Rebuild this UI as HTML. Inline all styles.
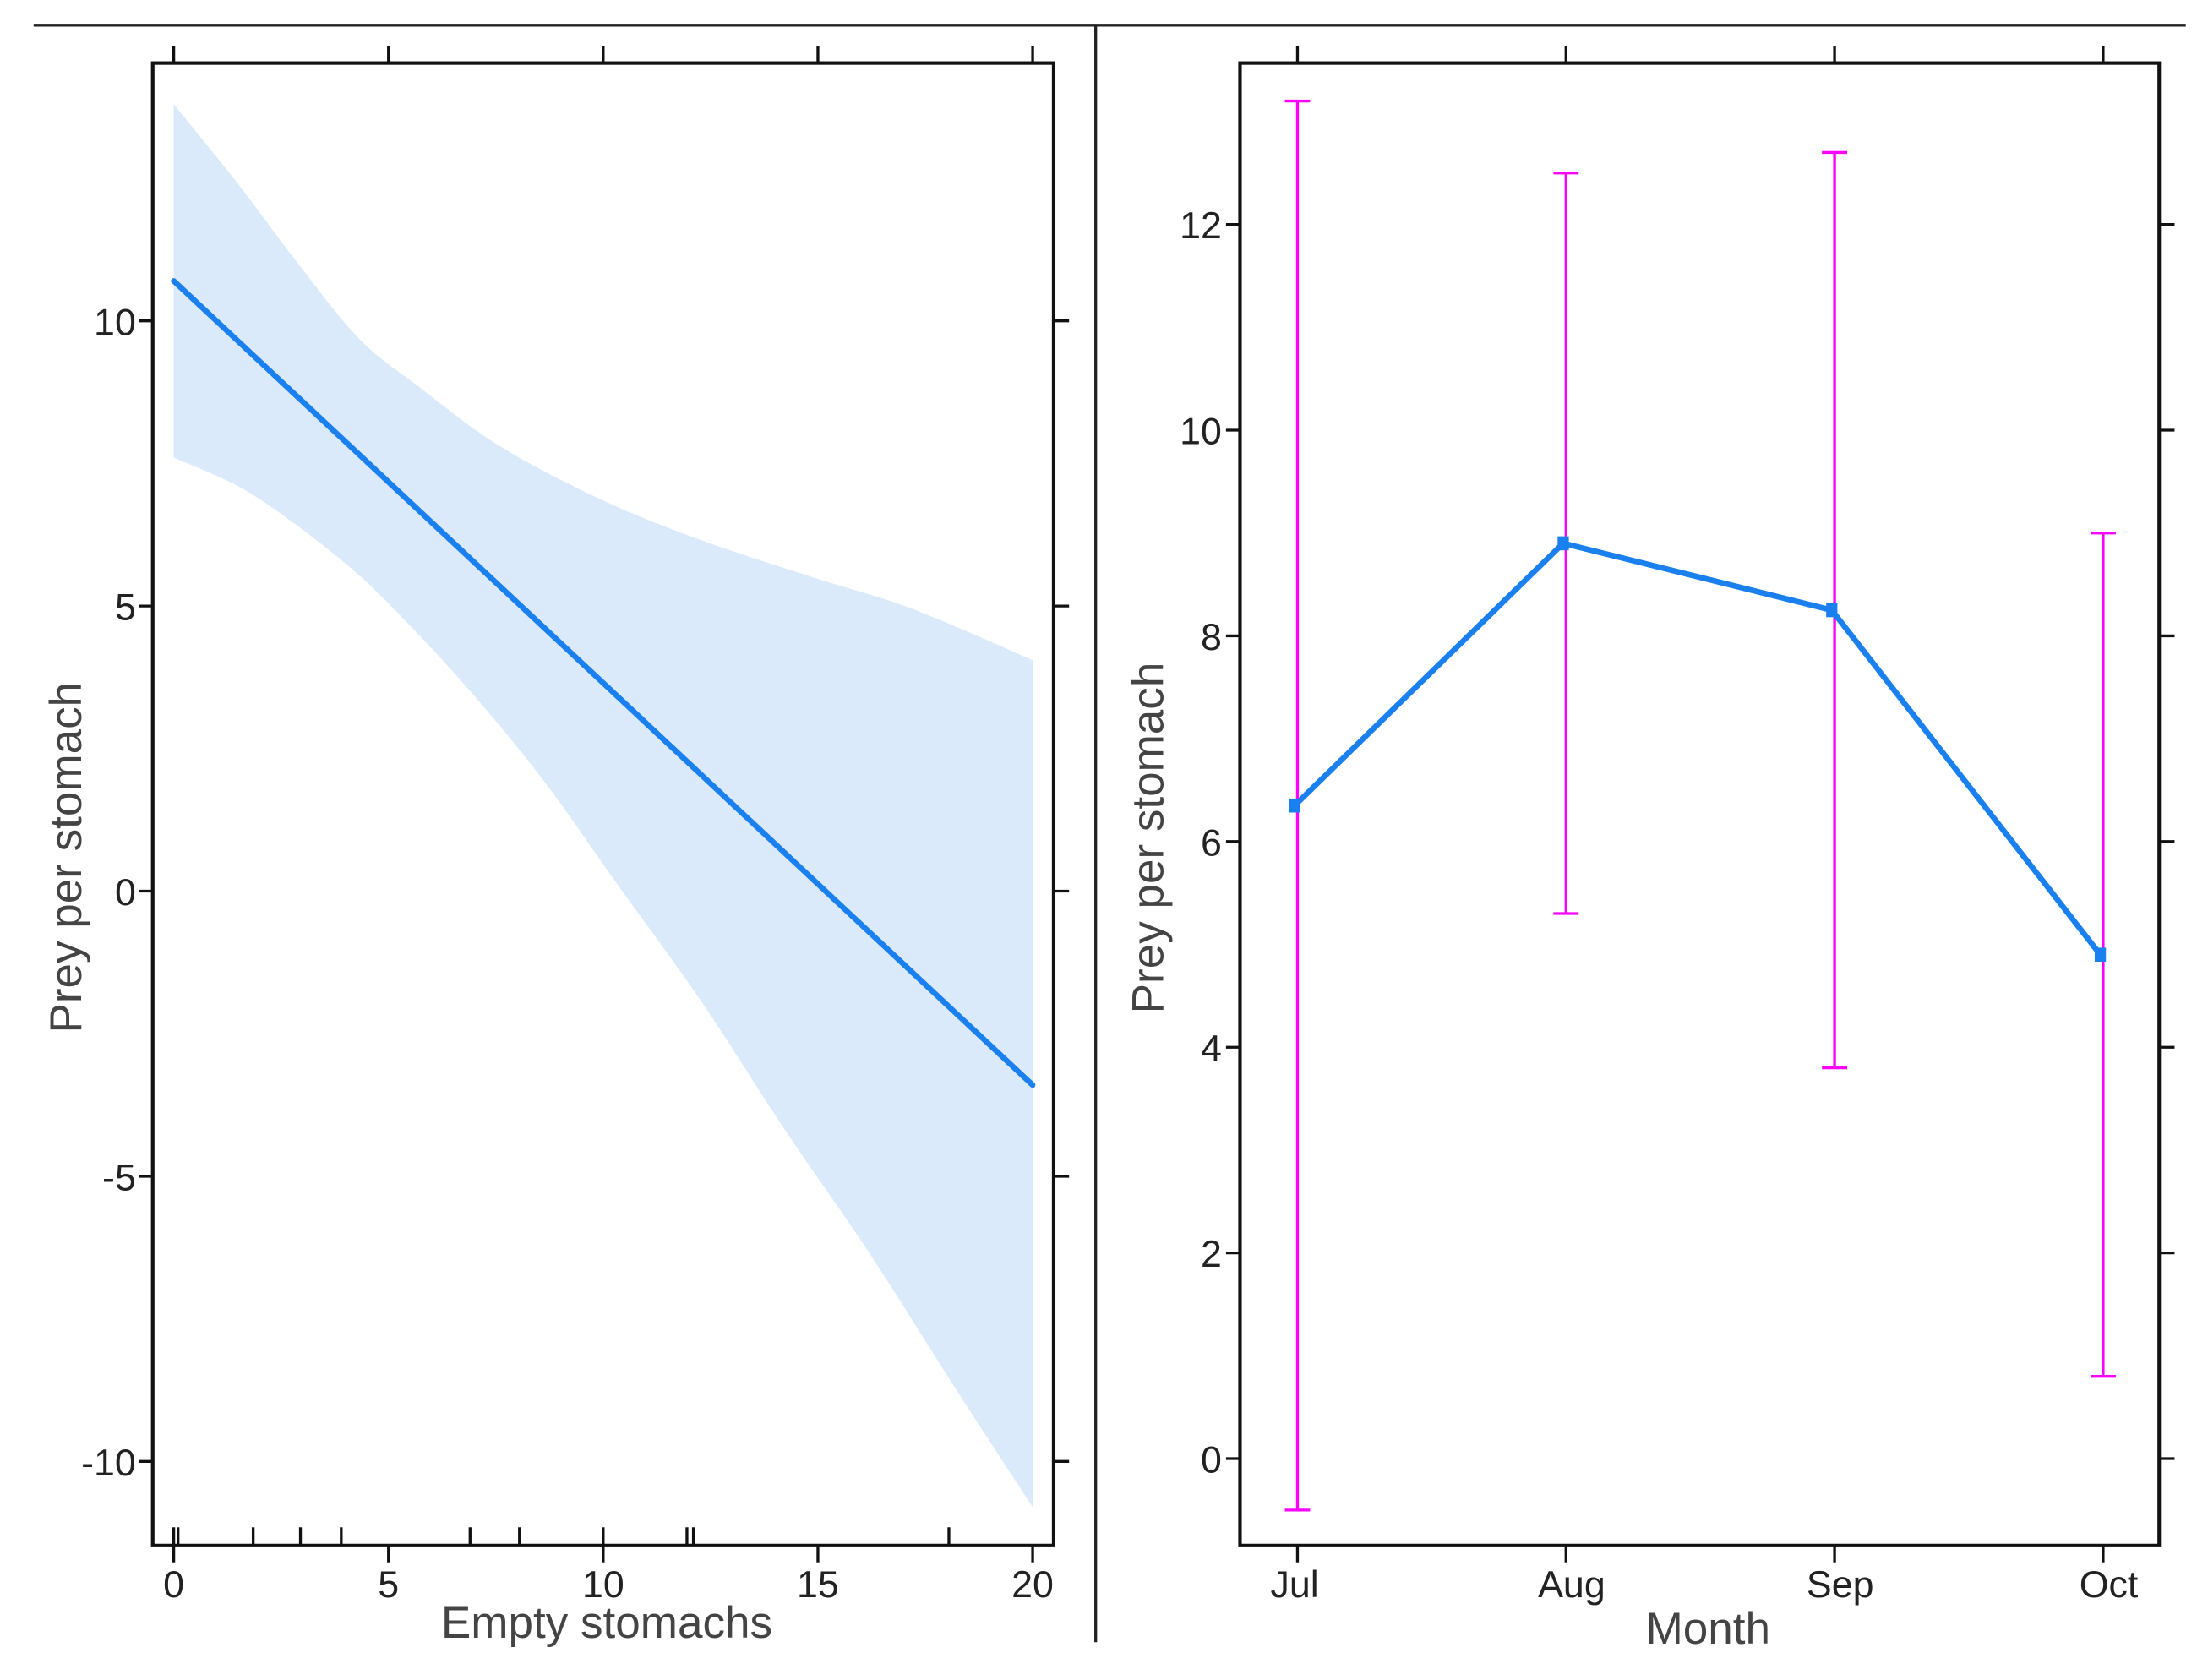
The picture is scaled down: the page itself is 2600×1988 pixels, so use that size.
<!DOCTYPE html>
<html><head><meta charset="utf-8"><style>
html,body{margin:0;padding:0;background:#fff;}
svg{display:block;}
text{font-family:"Liberation Sans",sans-serif;}
</style></head><body>
<svg id="chart" width="2600" height="1988" viewBox="0 0 1568 1199" preserveAspectRatio="none" xmlns="http://www.w3.org/2000/svg">
<line x1="24" y1="18" x2="1560" y2="18" stroke="#222" stroke-width="2"/>
<line x1="782" y1="18" x2="782" y2="1172" stroke="#222" stroke-width="2"/>
<g id="left"></g>
<g id="right"></g>
</svg>
<script>
// Left panel data
const leftXTicks = [0,5,10,15,20];
const leftYTicks = [10,5,0,-5,-10];
const lineX = [0,20];
const lineY = [10.7,-3.4];
const bandX = [0,1.5,2.8,4.3,5.7,7.6,10,12.3,14.9,17.2,20];
const bandUpper = [13.8,12.4,11.1,9.7,8.85,7.8,6.85,6.15,5.5,4.95,4.05];
const lowX = [0,1.5,2.8,4.3,5.7,7.2,8.7,10.3,12.3,14.2,16.2,18.1,20];
const bandLower = [7.6,7.1,6.45,5.55,4.5,3.25,1.85,0.15,-1.95,-4.15,-6.35,-8.6,-10.8];
const rug = [0,0.1,1.85,2.95,3.9,6.9,8.05,10,11.95,12.1,18.05];
// Right panel data
const months = ["Jul","Aug","Sep","Oct"];
const monthMean = [6.35,8.9,8.25,4.9];
const monthUpper = [13.2,12.5,12.7,9.0];
const monthLower = [-0.5,5.3,3.8,0.8];
const rightYTicks = [0,2,4,6,8,10,12];

const NS="http://www.w3.org/2000/svg";
function mk(parent,tag,attrs,txt){const e=document.createElementNS(NS,tag);for(const k in attrs)e.setAttribute(k,attrs[k]);if(txt!==undefined)e.textContent=txt;parent.appendChild(e);return e;}
function smooth(pts){ // catmull-rom to bezier, pts already in px
  let s='';
  for(let i=0;i<pts.length-1;i++){
    const p0=pts[Math.max(i-1,0)],p1=pts[i],p2=pts[i+1],p3=pts[Math.min(i+2,pts.length-1)];
    const c1=[p1[0]+(p2[0]-p0[0])/6,p1[1]+(p2[1]-p0[1])/6];
    const c2=[p2[0]-(p3[0]-p1[0])/6,p2[1]-(p3[1]-p1[1])/6];
    s+='C'+c1+' '+c2+' '+p2;
  }
  return s;
}

// LEFT
const L=document.getElementById('left');
const lx=v=>124+v*(737-124)/20;
const ly=v=>636-v*40.7;
const up=bandX.map((x,i)=>[lx(x),ly(bandUpper[i])]);
const lo=lowX.map((x,i)=>[lx(x),ly(bandLower[i])]).reverse();
let d='M'+up[0]+smooth(up)+'L'+lo[0]+smooth(lo)+'Z';
let band=mk(L,'path',{d:d,fill:'#dbeafb'});


let fl=mk(L,'line',{x1:lx(lineX[0]),y1:ly(lineY[0]),x2:lx(lineX[1]),y2:ly(lineY[1]),stroke:'#1a80f0','stroke-width':4,'stroke-linecap':'round'});


let lb=mk(L,'rect',{x:109,y:45,width:643,height:1058,fill:'none',stroke:'#111','stroke-width':2.5});


leftXTicks.forEach(v=>{
  mk(L,'line',{x1:lx(v),y1:1103,x2:lx(v),y2:1115,stroke:'#111','stroke-width':2});
  mk(L,'line',{x1:lx(v),y1:45,x2:lx(v),y2:33,stroke:'#111','stroke-width':2});
  let t=mk(L,'text',{x:lx(v),y:1140,'font-size':27,'text-anchor':'middle',fill:'#222'},String(v));
  
  
});
leftYTicks.forEach(v=>{
  mk(L,'line',{x1:109,y1:ly(v),x2:99,y2:ly(v),stroke:'#111','stroke-width':2});
  mk(L,'line',{x1:752,y1:ly(v),x2:763,y2:ly(v),stroke:'#111','stroke-width':2});
  let t=mk(L,'text',{x:97,y:ly(v)+10,'font-size':27,'text-anchor':'end',fill:'#222'},String(v));
  
  
});
rug.forEach(v=>{
  let r=mk(L,'line',{x1:lx(v),y1:1103,x2:lx(v),y2:1090,stroke:'#111','stroke-width':2});
  
  
});
let xt=mk(L,'text',{x:433,y:1169,'font-size':32,'text-anchor':'middle',fill:'#444'},'Empty stomachs');


let yt=mk(L,'text',{x:0,y:0,'font-size':32,'text-anchor':'middle',fill:'#444',transform:'translate(58,612) rotate(-90)'},'Prey per stomach');



// RIGHT
const R=document.getElementById('right');
const rx=i=>926+i*(1501-926)/3;
const ry=v=>1041-v*73.4;
monthMean.forEach((m,i)=>{
  let e=mk(R,'g',{});
  
  
  mk(e,'line',{x1:rx(i),y1:ry(monthUpper[i]),x2:rx(i),y2:ry(monthLower[i]),stroke:'#ff00ff','stroke-width':2});
  mk(e,'line',{x1:rx(i)-9,y1:ry(monthUpper[i]),x2:rx(i)+9,y2:ry(monthUpper[i]),stroke:'#ff00ff','stroke-width':2});
  mk(e,'line',{x1:rx(i)-9,y1:ry(monthLower[i]),x2:rx(i)+9,y2:ry(monthLower[i]),stroke:'#ff00ff','stroke-width':2});
});
let ml=mk(R,'polyline',{points:monthMean.map((m,i)=>(rx(i)-2)+','+ry(m)).join(' '),fill:'none',stroke:'#1a80f0','stroke-width':4,'stroke-linejoin':'round'});


monthMean.forEach((m,i)=>{
  let p=mk(R,'rect',{x:rx(i)-6,y:ry(m)-5,width:8,height:10,fill:'#1a80f0'});
  
  
});
let rb=mk(R,'rect',{x:885,y:45,width:656,height:1058,fill:'none',stroke:'#111','stroke-width':2.5});


months.forEach((m,i)=>{
  mk(R,'line',{x1:rx(i),y1:1103,x2:rx(i),y2:1115,stroke:'#111','stroke-width':2});
  mk(R,'line',{x1:rx(i),y1:45,x2:rx(i),y2:33,stroke:'#111','stroke-width':2});
  let t=mk(R,'text',{x:rx(i)+(i?4:-2),y:1140,'font-size':27,'text-anchor':'middle',fill:'#222'},m);
  
  
});
rightYTicks.forEach(v=>{
  mk(R,'line',{x1:885,y1:ry(v),x2:875,y2:ry(v),stroke:'#111','stroke-width':2});
  mk(R,'line',{x1:1541,y1:ry(v),x2:1552,y2:ry(v),stroke:'#111','stroke-width':2});
  let t=mk(R,'text',{x:872,y:ry(v)+10,'font-size':27,'text-anchor':'end',fill:'#222'},String(v));
  
  
});
let mt=mk(R,'text',{x:1219,y:1173,'font-size':32,'text-anchor':'middle',fill:'#444'},'Month');


let ryt=mk(R,'text',{x:0,y:0,'font-size':32,'text-anchor':'middle',fill:'#444',transform:'translate(830,598) rotate(-90)'},'Prey per stomach');


</script>
</body></html>
